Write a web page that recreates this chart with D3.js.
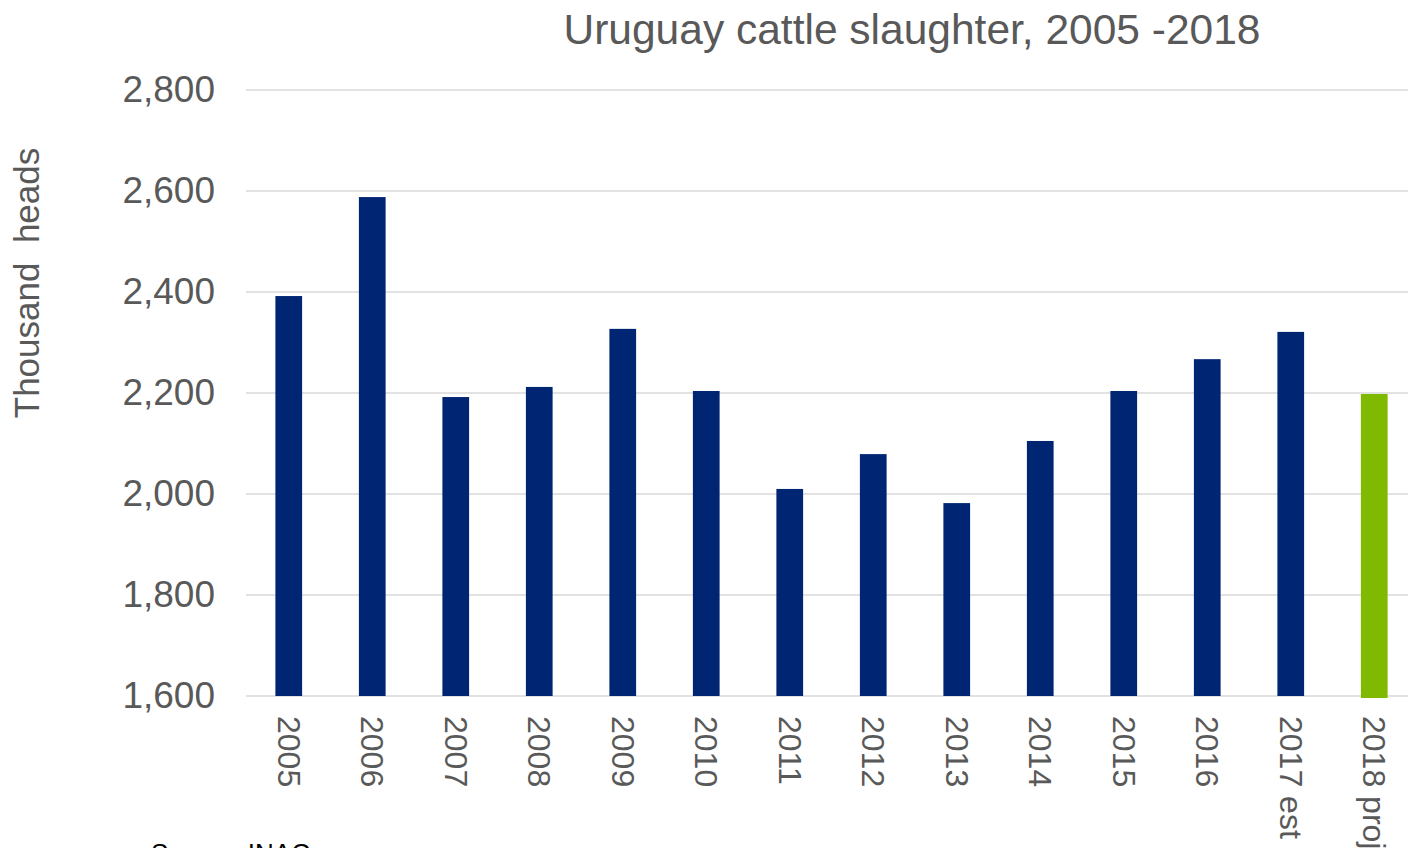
<!DOCTYPE html>
<html>
<head>
  <title>Uruguay cattle slaughter</title>
  <script src="https://d3js.org/d3.v7.min.js"></script>
  <style>
    body, html {
      margin: 0;
      padding: 0;
      overflow: hidden;
      background: #fff;
    }
    text {
      font-family: "Liberation Sans", Arial, sans-serif;
    }
  </style>
</head>
<body>
  <div id="chart"></div>

  <script>
    // Data
    const years = ["2005", "2006", "2007", "2008", "2009", "2010", "2011",
                   "2012", "2013", "2014", "2015", "2016", "2017 est", "2018 proj"];
    const slaughter = [2392, 2588, 2192, 2212, 2327, 2204, 2010,
                       2079, 1982, 2105, 2204, 2267, 2321, 2198];
    const yTicks = [1600, 1800, 2000, 2200, 2400, 2600, 2800];

    const width = 1408;
    const height = 848;

    const svg = d3.select("#chart")
      .append("svg")
      .attr("width", width)
      .attr("height", height);

    // plot area (runs a little past the right edge, as in the original)
    const plotLeft = 247, plotRight = 1416, plotTop = 90, plotBottom = 696;

    const x = d3.scaleBand()
      .domain(years)
      .range([plotLeft, plotRight])
      .paddingInner(0.68)
      .paddingOuter(0.34);

    const y = d3.scaleLinear()
      .domain([1600, 2800])
      .range([plotBottom, plotTop]);

    // gridlines
    svg.append("g")
      .selectAll("line")
      .data(yTicks)
      .join("line")
      .attr("x1", plotLeft - 1)
      .attr("x2", width)
      .attr("y1", d => y(d))
      .attr("y2", d => y(d))
      .attr("stroke", "#d9d9d9")
      .attr("stroke-width", 1.5);

    // bars
    svg.append("g")
      .selectAll("rect")
      .data(years)
      .join("rect")
      .attr("x", d => x(d))
      .attr("width", x.bandwidth())
      .attr("y", (d, i) => y(slaughter[i]))
      .attr("height", (d, i) => y(1600) - y(slaughter[i]) + (i === years.length - 1 ? 2 : 0))
      .attr("fill", (d, i) => i === years.length - 1 ? "#7fba00" : "#002673");

    // y axis labels
    const yAxis = svg.append("g")
      .attr("transform", `translate(${plotLeft - 32},0)`)
      .call(d3.axisLeft(y).tickValues(yTicks).tickFormat(d3.format(",")).tickSize(0).tickPadding(0));
    yAxis.select(".domain").remove();
    yAxis.selectAll("text")
      .attr("font-size", 37)
      .attr("fill", "#595959")
      .attr("font-family", "Liberation Sans, Arial, sans-serif");

    // x axis labels, rotated
    svg.append("g")
      .selectAll("text")
      .data(years)
      .join("text")
      .attr("transform", d => `translate(${x(d) + x.bandwidth() / 2},716) rotate(90)`)
      .attr("dy", "0.35em")
      .attr("font-size", 32)
      .attr("fill", "#595959")
      .text(d => d);

    // axis title
    svg.append("text")
      .attr("transform", "translate(39,283) rotate(-90)")
      .attr("text-anchor", "middle")
      .attr("font-size", 35)
      .attr("fill", "#595959")
      .attr("xml:space", "preserve")
      .text("Thousand  heads");

    // chart title
    svg.append("text")
      .attr("x", 912)
      .attr("y", 44)
      .attr("text-anchor", "middle")
      .attr("font-size", 42.5)
      .attr("fill", "#595959")
      .text("Uruguay cattle slaughter, 2005 -2018");

    // source note (cut off by the bottom edge, as in the original)
    svg.append("text")
      .attr("x", 151)
      .attr("y", 862)
      .attr("font-size", 26)
      .attr("fill", "#000")
      .text("Source: INAC");
  </script>
</body>
</html>
